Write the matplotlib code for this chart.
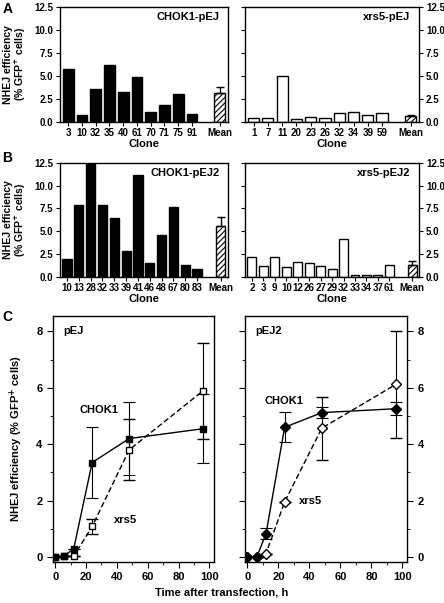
import matplotlib
matplotlib.use('Agg')
from matplotlib import pyplot as plt
from matplotlib.ticker import MultipleLocator

plt.rcParams['font.family'] = ['Liberation Sans', 'DejaVu Sans']
plt.rcParams['font.weight'] = 'bold'
plt.rcParams['axes.labelweight'] = 'bold'
plt.rcParams['mathtext.default'] = 'bf'
plt.rcParams['font.size'] = 7
plt.rcParams['hatch.linewidth'] = 0.8

# panel A / B clone data
chok_pej_clones = ['3', '10', '32', '35', '40', '61', '70', '71', '75', '91']
chok_pej_vals = [5.7, 0.7, 3.6, 6.2, 3.25, 4.9, 1.1, 1.8, 3.0, 0.85]
chok_pej_mean, chok_pej_err = 3.1, 0.65

xrs_pej_clones = ['1', '7', '11', '20', '23', '26', '32', '34', '39', '59']
xrs_pej_vals = [0.37, 0.37, 5.0, 0.3, 0.55, 0.45, 0.92, 1.1, 0.7, 0.95]
xrs_pej_mean, xrs_pej_err = 0.62, 0.12

chok_pej2_clones = ['10', '13', '28', '32', '33', '39', '41', '46', '48', '67', '80', '83']
chok_pej2_vals = [1.9, 7.85, 12.4, 7.9, 6.5, 2.82, 11.15, 1.55, 4.55, 7.65, 1.32, 0.88]
chok_pej2_mean, chok_pej2_err = 5.55, 1.05

xrs_pej2_clones = ['2', '3', '9', '10', '12', '26', '27', '29', '32', '33', '34', '37', '61']
xrs_pej2_vals = [2.13, 1.2, 2.13, 1.05, 1.6, 1.5, 1.2, 0.86, 4.1, 0.19, 0.19, 0.19, 1.27]
xrs_pej2_mean, xrs_pej2_err = 1.3, 0.4

# panel C time course
hours = [0, 6, 12, 24, 48, 96]
pej_chok = [0, 0.05, 0.28, 3.35, 4.2, 4.55]
pej_chok_err = [0, 0, 0, 1.26, 1.28, 1.22]
pej_xrs = [0, 0.02, 0.02, 1.08, 3.8, 5.9]
pej_xrs_err = [0, 0, 0, 0.25, 1.08, 1.7]

pej2_chok = [0, 0, 0.82, 4.6, 5.12, 5.26]
pej2_chok_err = [0, 0, 0.2, 0.53, 0.2, 0.24]
pej2_xrs = [0, 0, 0.12, 1.95, 4.57, 6.13]
pej2_xrs_err = [0, 0, 0, 0, 1.12, 1.9]

fig = plt.figure(figsize=(4.44, 6.03), dpi=100)


def bar_panel(ax, clones, vals, mean, err, filled, title, right=False):
    n = len(clones)
    xs = list(range(n))
    ax.bar(xs, vals, width=0.78, color='black' if filled else 'white',
           edgecolor='black', linewidth=1)
    ax.bar([n + 1], [mean], width=0.78, color='white', edgecolor='black',
           hatch='//////', linewidth=1)
    ax.errorbar([n + 1], [mean], yerr=[[0], [err]], fmt='none', ecolor='black',
                capsize=3, elinewidth=1, capthick=1)
    ax.set_xticks(xs + [n + 1])
    ax.set_xticklabels(clones + ['Mean'])
    ax.set_xlim(-0.6, n + 1.6)
    ax.set_ylim(0, 12.5)
    ax.yaxis.set_major_locator(MultipleLocator(2.5))
    ax.yaxis.set_major_formatter(plt.FuncFormatter(lambda v, p: '%.1f' % v))
    ax.tick_params(axis='x', length=3, pad=1.5)
    ax.tick_params(axis='y', length=3, pad=2)
    ax.set_xlabel('Clone', fontsize=8, labelpad=1)
    ax.text(0.95, 0.88, title, transform=ax.transAxes, ha='right', fontsize=8)
    if right:
        ax.yaxis.tick_right()
        ax.tick_params(axis='y', left=True, labelleft=False)
    else:
        ax.set_ylabel('NHEJ efficiency\n(% GFP$^{+}$ cells)', fontsize=7.5,
                      labelpad=4, linespacing=1.0)
    for s in ax.spines.values():
        s.set_linewidth(1)


axA1 = fig.add_axes([0.135, 0.798, 0.378, 0.191])
axA2 = fig.add_axes([0.552, 0.798, 0.392, 0.191])
axB1 = fig.add_axes([0.135, 0.541, 0.378, 0.189])
axB2 = fig.add_axes([0.552, 0.541, 0.392, 0.189])

bar_panel(axA1, chok_pej_clones, chok_pej_vals, chok_pej_mean, chok_pej_err, True, 'CHOK1-pEJ')
bar_panel(axA2, xrs_pej_clones, xrs_pej_vals, xrs_pej_mean, xrs_pej_err, False, 'xrs5-pEJ', right=True)
bar_panel(axB1, chok_pej2_clones, chok_pej2_vals, chok_pej2_mean, chok_pej2_err, True, 'CHOK1-pEJ2')
bar_panel(axB2, xrs_pej2_clones, xrs_pej2_vals, xrs_pej2_mean, xrs_pej2_err, False, 'xrs5-pEJ2', right=True)

axC1 = fig.add_axes([0.119, 0.068, 0.363, 0.408])
axC2 = fig.add_axes([0.552, 0.068, 0.365, 0.408])


def time_panel(ax, chok, chok_err, xrs, xrs_err, marker, title, labels, right=False):
    ax.errorbar(hours, xrs, yerr=xrs_err, color='black', ls='--', lw=1,
                marker=marker, ms=5, mfc='white', mec='black', mew=1,
                capsize=4, elinewidth=0.8, capthick=0.8, dashes=(4, 2))
    ax.errorbar(hours, chok, yerr=chok_err, color='black', ls='-', lw=1,
                marker=marker, ms=5, mfc='black', mec='black',
                capsize=4, elinewidth=0.8, capthick=0.8)
    ax.set_xlim(-1.5, 103)
    ax.set_ylim(-0.18, 8.55)
    ax.xaxis.set_major_locator(MultipleLocator(20))
    ax.xaxis.set_minor_locator(MultipleLocator(10))
    ax.yaxis.set_major_locator(MultipleLocator(2))
    ax.yaxis.set_minor_locator(MultipleLocator(1))
    ax.tick_params(which='major', length=4, labelsize=8)
    ax.tick_params(which='minor', length=2.5)
    ax.text(5, 8.0, title, fontsize=8, va='center')
    ax.text(labels[0][0], labels[0][1], 'CHOK1', fontsize=8, va='center')
    ax.text(labels[1][0], labels[1][1], 'xrs5', fontsize=8, va='center')
    if right:
        ax.yaxis.tick_right()
        ax.tick_params(axis='y', which='both', left=True, labelleft=False)
    else:
        ax.set_ylabel('NHEJ efficiency (% GFP$^{+}$ cells)', fontsize=8, labelpad=8)
    for s in ax.spines.values():
        s.set_linewidth(1)


time_panel(axC1, pej_chok, pej_chok_err, pej_xrs, pej_xrs_err, 's', 'pEJ',
           [(16, 5.2), (38, 1.3)])
time_panel(axC2, pej2_chok, pej2_chok_err, pej2_xrs, pej2_xrs_err, 'D', 'pEJ2',
           [(11, 5.55), (33, 2.0)], right=True)

fig.text(0.5, 0.013, 'Time after transfection, h', ha='center', fontsize=8)

fig.text(0.005, 0.978, 'A', fontsize=10)
fig.text(0.005, 0.731, 'B', fontsize=10)
fig.text(0.005, 0.468, 'C', fontsize=10)

fig.savefig('out.png', dpi=100)
